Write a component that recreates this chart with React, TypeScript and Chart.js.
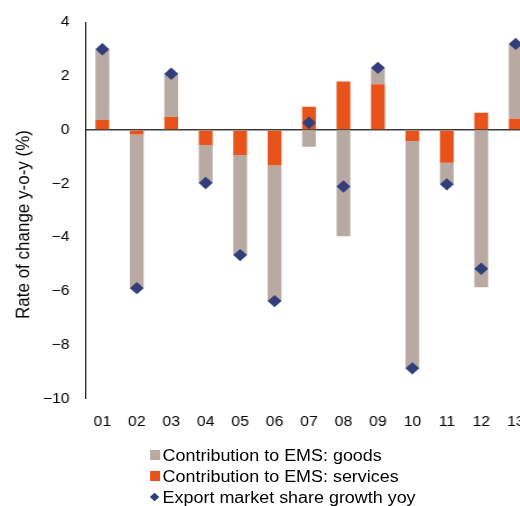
import React, { useEffect, useRef } from "react";
import { Chart, registerables } from "chart.js";

Chart.register(...registerables);

const categories = ["01", "02", "03", "04", "05", "06", "07", "08", "09", "10", "11", "12", "13"];
const goods = [2.62, -5.71, 1.6, -1.41, -3.72, -5.04, -0.62, -3.95, 0.6, -8.45, -0.8, -5.85, 2.77];
const services = [0.37, -0.17, 0.49, -0.56, -0.93, -1.32, 0.86, 1.8, 1.7, -0.41, -1.22, 0.64, 0.42];
const emsGrowth = [3.0, -5.88, 2.09, -1.97, -4.65, -6.36, 0.27, -2.1, 2.31, -8.86, -2.02, -5.16, 3.2];

const yMin = -10;
const yMax = 4;
const yStep = 2;

const labelGoods = "Contribution to EMS: goods";
const labelServices = "Contribution to EMS: services";
const labelEms = "Export market share growth yoy";
const yTitle = "Rate of change y-o-y (%)";

const COLOR_GOODS = "#B8AAA2";
const COLOR_SERVICES = "#E8531B";
const COLOR_EMS = "#323E7A";
const FONT = "'Liberation Sans', Arial, sans-serif";
const STRETCH = 1.12;

const titlePlugin = {
  id: "yTitleText",
  afterDraw(chart: any) {
    const ctx = chart.ctx;
    ctx.save();
    ctx.translate(21.5, 224.5);
    ctx.rotate(-Math.PI / 2);
    ctx.textAlign = "center";
    ctx.textBaseline = "middle";
    ctx.fillStyle = "#000";
    ctx.font = `17px ${FONT}`;
    ctx.fillText(yTitle, 0, 0);
    ctx.restore();
  },
};

export default function App() {
  const ref = useRef<HTMLCanvasElement | null>(null);

  useEffect(() => {
    if (!ref.current) return;
    Chart.defaults.font.family = FONT;
    Chart.defaults.color = "#000";
    const chart = new Chart(ref.current, {
      type: "bar",
      data: {
        labels: categories,
        datasets: [
          {
            type: "line",
            label: labelEms,
            data: emsGrowth,
            showLine: false,
            pointStyle: "rectRot",
            pointRadius: 6.2,
            pointBorderWidth: 0,
            pointBackgroundColor: COLOR_EMS,
            pointBorderColor: COLOR_EMS,
            backgroundColor: COLOR_EMS,
            borderColor: COLOR_EMS,
            stack: "line",
            order: 0,
          } as any,
          {
            label: labelServices,
            data: services,
            backgroundColor: COLOR_SERVICES,
            stack: "ems",
            order: 1,
            barPercentage: 0.4,
            categoryPercentage: 1,
          },
          {
            label: labelGoods,
            data: goods,
            backgroundColor: COLOR_GOODS,
            stack: "ems",
            order: 2,
            barPercentage: 0.4,
            categoryPercentage: 1,
          },
        ],
      },
      options: {
        animation: false,
        responsive: false,
        maintainAspectRatio: false,
        layout: { padding: { top: 21, left: 0, right: 2, bottom: 0 } },
        plugins: {
          legend: { display: false },
          tooltip: { enabled: false },
        },
        scales: {
          x: {
            stacked: true,
            offset: true,
            grid: { display: false, drawTicks: false },
            border: { display: false },
            ticks: { font: { size: 14 }, padding: 15, color: "#000", maxRotation: 0, autoSkip: false },
            afterFit: (s: any) => {
              s.height = 35;
              s.paddingLeft = 0;
              s.paddingRight = 0;
            },
          },
          y: {
            stacked: true,
            min: yMin,
            max: yMax,
            ticks: {
              stepSize: yStep,
              font: { size: 14 },
              padding: 14,
              color: "#000",
              callback: (v: any) => (Number(v) < 0 ? "\u2212" + Math.abs(Number(v)) : String(v)),
            },
            grid: {
              drawTicks: false,
              color: (c: any) => (c.tick && c.tick.value === 0 ? "#3C3C3C" : "rgba(0,0,0,0)"),
              lineWidth: (c: any) => (c.tick && c.tick.value === 0 ? 1.5 : 0),
            },
            border: { display: true, color: "#000", width: 1 },
            afterFit: (s: any) => {
              s.width = 76;
            },
          },
        },
      },
      plugins: [titlePlugin],
    });
    return () => chart.destroy();
  }, []);

  const legendItems = [
    { label: labelGoods, kind: "square", color: COLOR_GOODS },
    { label: labelServices, kind: "square", color: COLOR_SERVICES },
    { label: labelEms, kind: "diamond", color: COLOR_EMS },
  ];

  return (
    <div
      style={{
        position: "absolute",
        left: 0,
        top: 0,
        width: 520,
        height: 506,
        overflow: "hidden",
        background: "#fff",
      }}
    >
      <div
        style={{
          position: "absolute",
          left: 0,
          top: 0,
          width: 482,
          height: 506,
          transform: `scaleX(${STRETCH})`,
          transformOrigin: "0 0",
        }}
      >
        <canvas ref={ref} width={482} height={434} style={{ display: "block" }} />
        <div style={{ position: "absolute", left: 133.7, top: 444.5, fontFamily: FONT, fontSize: 16, color: "#000" }}>
          {legendItems.map((it) => (
            <div key={it.label} style={{ display: "flex", alignItems: "center", height: 21, lineHeight: "21px", whiteSpace: "nowrap" }}>
              <span style={{ width: 9, height: 21, display: "inline-flex", alignItems: "center", justifyContent: "center" }}>
                {it.kind === "square" ? (
                  <span style={{ display: "block", width: 9, height: 10, background: it.color }} />
                ) : (
                  <span
                    style={{
                      display: "block",
                      width: 6,
                      height: 6,
                      background: it.color,
                      transform: "rotate(45deg)",
                    }}
                  />
                )}
              </span>
              <span style={{ marginLeft: 2.5 }}>{it.label}</span>
            </div>
          ))}
        </div>
      </div>
    </div>
  );
}
